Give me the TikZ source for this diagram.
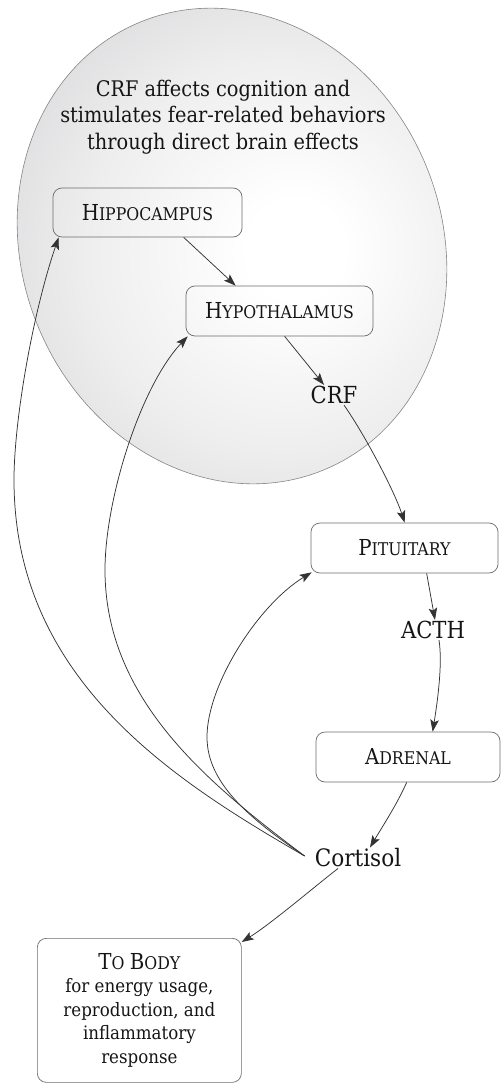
\documentclass[tikz,border=0pt]{standalone}
\usepackage{fontspec}
\setmainfont{DejaVu Serif Condensed}
\usetikzlibrary{arrows.meta,calc}
\definecolor{ln}{HTML}{333333}
\definecolor{bx}{HTML}{6C6C6C}
\definecolor{egl}{HTML}{858585}
\definecolor{txt}{HTML}{151515}
\definecolor{shin}{HTML}{EEEEEF}
\definecolor{shmid}{HTML}{D4D4D6}
\definecolor{shout}{HTML}{A6A6A8}
\pgfdeclareradialshading{brainshade}{\pgfpoint{7bp}{2bp}}{color(0bp)=(white); color(5bp)=(white); color(20bp)=(shin); color(36bp)=(shmid); color(52bp)=(shout); color(75bp)=(shout)}
\newcommand\capsc[2]{{\fontsize{22}{24}\selectfont #1}{\fontsize{17.5}{24}\selectfont #2}}
\begin{document}
\begin{tikzpicture}[x=1pt,y=-1pt,
  box/.style={draw=bx, line width=0.7pt, rounded corners=9pt, align=center, inner sep=0pt, text=txt},
  lbl/.style={inner sep=1pt, text=txt},
  arr/.style={draw=ln, line width=0.75pt, -{Stealth[length=12pt,width=8.5pt,inset=2.5pt]}}]
\useasboundingbox (0,0) rectangle (501,1083);
\path[shading=brainshade, draw=egl, line width=0.6pt, rotate around={22:(232,246)}] (232,246) ellipse [x radius=210, y radius=242];
\node[text=txt, align=center, font=\fontsize{21.5}{26.5}\selectfont] (title) at (223,117) {CRF affects cognition and\\ stimulates fear-related behaviors\\ through direct brain effects};
\node[box, minimum width=189, minimum height=49] (hip) at (147.5,212.5) {\capsc{H}{IPPOCAMPUS}};
\node[box, minimum width=187, minimum height=50] (hyp) at (279.5,311) {\capsc{H}{YPOTHALAMUS}};
\node[lbl, font=\fontsize{23.5}{24}\selectfont] (crf) at (334,395) {CRF};
\node[box, minimum width=187, minimum height=50] (pit) at (404.5,548) {\capsc{P}{ITUITARY}};
\node[lbl, font=\fontsize{23.5}{24}\selectfont] (acth) at (433,630) {ACTH};
\node[box, minimum width=184, minimum height=50] (adr) at (408,757) {\capsc{A}{DRENAL}};
\node[lbl, font=\fontsize{24}{24}\selectfont] (cort) at (358,858) {Cortisol};
\node[box, minimum width=204, minimum height=144, anchor=north west, font=\fontsize{18.5}{23.5}\selectfont] (body) at (37,938) {\capsc{T}{O} \capsc{B}{ODY}\\ for energy usage,\\ reproduction, and\\ inflammatory\\ response};
\coordinate (fb) at ([xshift=-9pt,yshift=2pt]cort.west);
% main chain
\draw[arr] ([xshift=131pt]hip.south west) -- ([xshift=50pt]hyp.north west);
\draw[arr] ([xshift=99pt]hyp.south west) -- ([xshift=-10pt]crf.north);
\draw[arr] ([xshift=10pt]crf.south) .. controls +(21,30) and +(-10,-31) .. ([xshift=94pt]pit.north west);
\draw[arr] ([xshift=116pt]pit.south west) -- ([xshift=2pt]acth.north);
\draw[arr] ([xshift=6pt]acth.south) .. controls +(4,25) and +(4,-25) .. ([xshift=117pt]adr.north west);
\draw[arr] ([xshift=91pt]adr.south west) .. controls +(-9,21) and +(10,-17) .. ([xshift=12pt]cort.north);
\draw[arr] ([xshift=-20pt]cort.south) .. controls +(-22,17) and +(29,-18) .. ([yshift=-4pt]body.north east);
% feedback
\draw[arr] (fb) .. controls (247,817) and (207,782) .. (207,737) .. controls (207,685) and (258,605) .. ([xshift=1pt,yshift=1pt]pit.south west);
\draw[arr] (fb) .. controls (209,784) and (105,700) .. (105,570) .. controls (105,500) and (140,387) .. ([xshift=2pt]hyp.south west);
\draw[arr] (fb) .. controls (175,781) and (14,680) .. (14,480) .. controls (14,420) and (33,312) .. ([xshift=6pt]hip.south west);
\end{tikzpicture}
\end{document}
